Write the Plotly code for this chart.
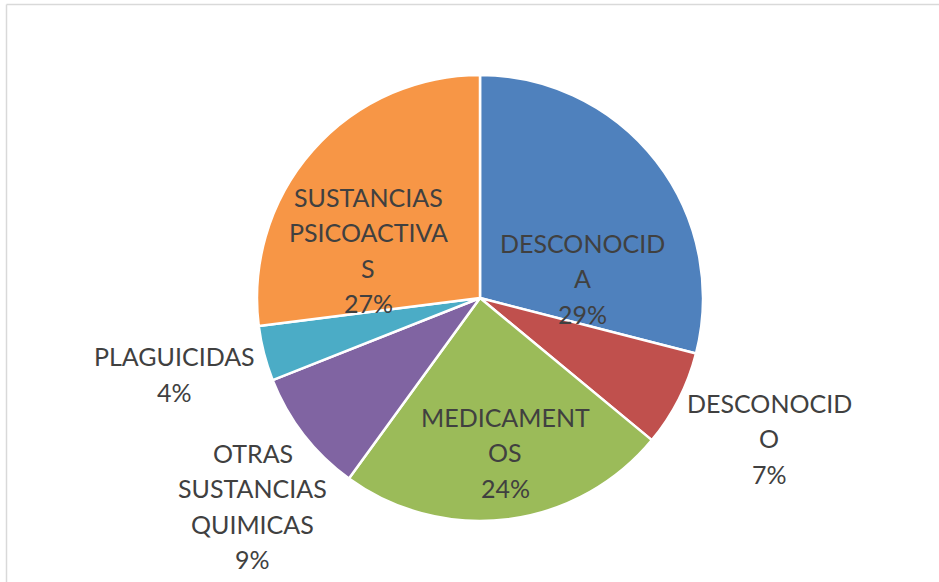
import plotly.graph_objects as go

categories = ["DESCONOCIDA", "DESCONOCIDO", "MEDICAMENTOS",
              "OTRAS SUSTANCIAS QUIMICAS", "PLAGUICIDAS", "SUSTANCIAS PSICOACTIVAS"]
label_lines = [["DESCONOCID", "A"], ["DESCONOCID", "O"], ["MEDICAMENT", "OS"],
               ["OTRAS", "SUSTANCIAS", "QUIMICAS"], ["PLAGUICIDAS"], ["SUSTANCIAS", "PSICOACTIVA", "S"]]
values = [29, 7, 24, 9, 4, 27]
colors = ["#4F81BD", "#C0504D", "#9BBB59", "#8064A2", "#4BACC6", "#F79646"]

total = sum(values)
text_lines = [lines + [f"{round(v * 100 / total)}%"] for lines, v in zip(label_lines, values)]

W, H = 939, 582
LINE_PITCH = 35.5

# label block centres (pixels from top-left), Excel "best fit" placement
label_px = [(582, 278), (769, 438), (505, 452), (253, 506), (174, 374), (368, 250)]

fig = go.Figure(go.Pie(
    labels=categories,
    values=values,
    textinfo="none",
    sort=False,
    direction="clockwise",
    rotation=0,
    marker=dict(colors=colors, line=dict(color="white", width=2.5)),
    hoverinfo="label+percent",
    showlegend=False,
    domain=dict(x=[257 / W, 703 / W], y=[1 - 521 / H, 1 - 75 / H]),
))

annotations = []
for lines, (px, py) in zip(text_lines, label_px):
    n = len(lines)
    for i, line in enumerate(lines):
        ly = py + (i - (n - 1) / 2) * LINE_PITCH
        annotations.append(dict(
            text=line, x=px / W, y=1 - ly / H, xref="paper", yref="paper",
            xanchor="center", yanchor="middle", align="center", showarrow=False,
            font=dict(family="Lato, Open Sans, sans-serif", size=25, color="#404040"),
        ))

fig.update_layout(
    width=W, height=H,
    margin=dict(l=0, r=0, t=0, b=0),
    paper_bgcolor="white",
    annotations=annotations,
    shapes=[
        dict(type="line", xref="paper", yref="paper", x0=6.5 / W, x1=1, y0=1 - 4.5 / H, y1=1 - 4.5 / H,
             line=dict(color="#D9D9D9", width=1.5)),
        dict(type="line", xref="paper", yref="paper", x0=6.5 / W, x1=6.5 / W, y0=0, y1=1 - 4.5 / H,
             line=dict(color="#D9D9D9", width=1.5)),
    ],
)

fig.write_html("out.html", config={"displayModeBar": False},
               post_script="document.body.style.margin='0';document.body.style.overflow='hidden';")
